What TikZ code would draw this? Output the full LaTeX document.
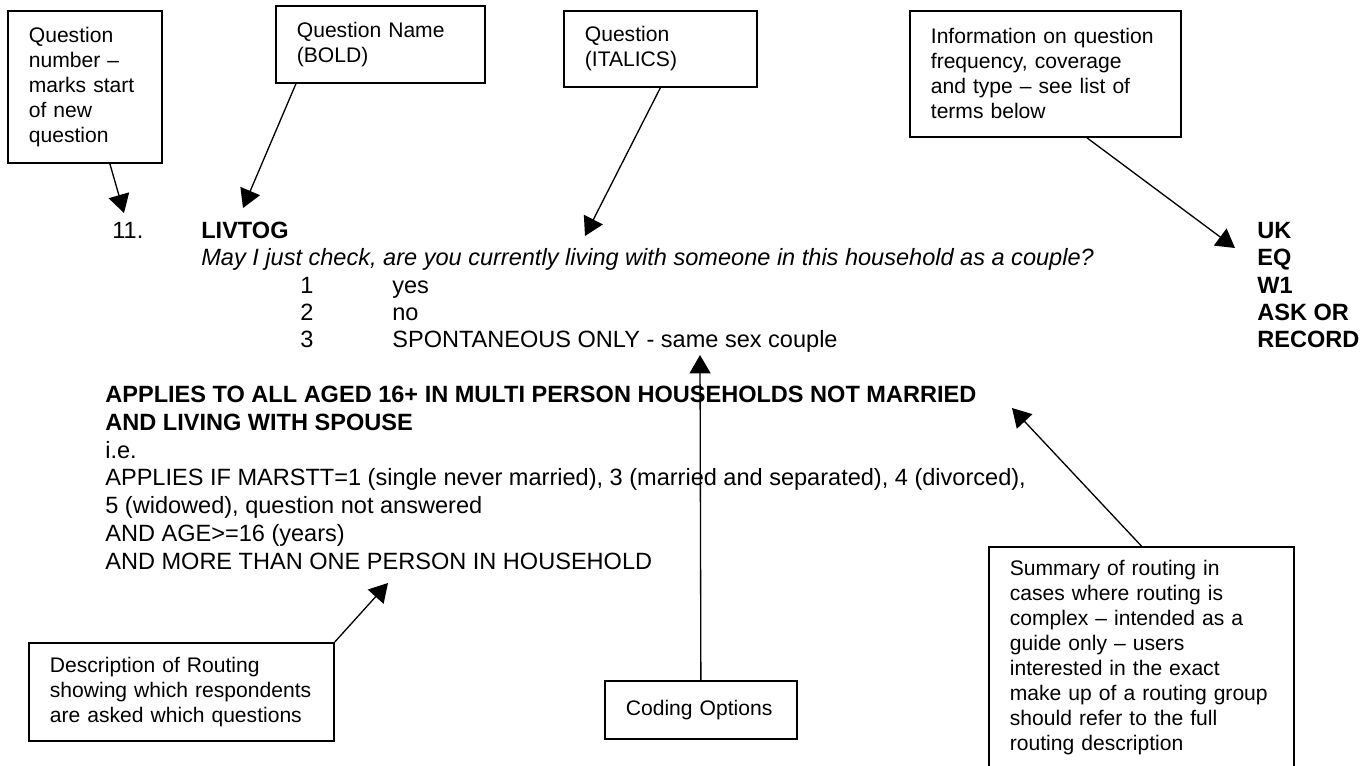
\documentclass[tikz,border=0pt]{standalone}
\usepackage{fontspec}
\setmainfont{Liberation Sans}
\usetikzlibrary{arrows.meta}
\newlength{\pxu}
\setlength{\pxu}{0.02cm}

\begin{document}
\begin{tikzpicture}[x=\pxu, y=-\pxu,
  every node/.style={inner sep=0pt, font=\fontsize{13.4}{15.6}\selectfont},
  box/.style={draw, line width=1pt, anchor=north west, align=left, inner xsep=21\pxu, inner ysep=0pt, font=\fontsize{12}{14.2}\selectfont},
  line/.style={anchor=base west},
  pointer/.style={line width=0.75pt, -{Triangle[length=10.5pt, width=12pt]}}]
\useasboundingbox (0,0) rectangle (1368,765);
\node[box, text width=112\pxu, minimum height=152\pxu] (numbox) at (7,10) {Question\\number –\\marks start\\of new\\question};
\node[box, text width=167\pxu, minimum height=77\pxu] (namebox) at (275,5) {Question Name\\(BOLD)};
\node[box, text width=151\pxu, minimum height=76\pxu] (qbox) at (563,10) {Question\\(ITALICS)};
\node[box, text width=229\pxu, minimum height=126\pxu] (infobox) at (909,10) {Information on question\\frequency, coverage\\and type – see list of\\terms below};
\node[box, text width=263\pxu, minimum height=98\pxu] (descbox) at (28,642) {Description of Routing\\showing which respondents\\are asked which questions};
\node[box, text width=150\pxu, minimum height=58\pxu] (codebox) at (604,680) {Coding Options};
\node[box, text width=263\pxu, minimum height=221\pxu] (sumbox) at (988,546) {Summary of routing in\\cases where routing is\\complex – intended as a\\guide only – users\\interested in the exact\\make up of a routing group\\should refer to the full\\routing description};
\node[line] (qnum) at (112,238) {11.};
\node[line] (qname) at (201,238) {\textbf{LIVTOG}};
\node[line] (qtext) at (201,265) {\textit{May I just check, are you currently living with someone in this household as a couple?}};
\node[line] (c1) at (300,293) {1};
\node[line] (a1) at (392,293) {yes};
\node[line] (c2) at (300,320) {2};
\node[line] (a2) at (392,320) {no};
\node[line] (c3) at (300,347) {3};
\node[line] (a3) at (392,347) {SPONTANEOUS ONLY - same sex couple};
\node[line] (uk) at (1257,238) {\textbf{UK}};
\node[line] (eq) at (1257,265) {\textbf{EQ}};
\node[line] (w1) at (1257,293) {\textbf{W1}};
\node[line] (ask) at (1257,320) {\textbf{ASK OR}};
\node[line] (rec) at (1257,347) {\textbf{RECORD}};
\node[line] (r1) at (105,402) {\textbf{APPLIES TO ALL AGED 16+ IN MULTI PERSON HOUSEHOLDS NOT MARRIED}};
\node[line] (r2) at (105,430) {\textbf{AND LIVING WITH SPOUSE}};
\node[line] (r3) at (105,458) {i.e.};
\node[line] (r4) at (105,485) {APPLIES IF MARSTT=1 (single never married), 3 (married and separated), 4 (divorced),};
\node[line] (r5) at (105,513) {5 (widowed), question not answered};
\node[line] (r6) at (105,541) {AND AGE>=16 (years)};
\node[line] (r7) at (105,569) {AND MORE THAN ONE PERSON IN HOUSEHOLD};
\coordinate (numtip) at (124,213);
\coordinate (nametip) at (243,208);
\coordinate (qtip) at (585,236);
\coordinate (infotip) at (1235,248);
\coordinate (desctip) at (388,583);
\coordinate (codetip) at (700,355);
\coordinate (sumtip) at (1012,408);
\draw[pointer] (numbox.288) -- (numtip);
\draw[pointer] (namebox.205) -- (nametip);
\draw[pointer] (qbox.south) -- (qtip);
\draw[pointer] (infobox.303) -- (infotip);
\draw[pointer] (descbox.north east) -- (desctip);
\draw[pointer] (codebox.north) -- (codetip);
\draw[pointer] (sumbox.north) -- (sumtip);
\end{tikzpicture}
\end{document}
